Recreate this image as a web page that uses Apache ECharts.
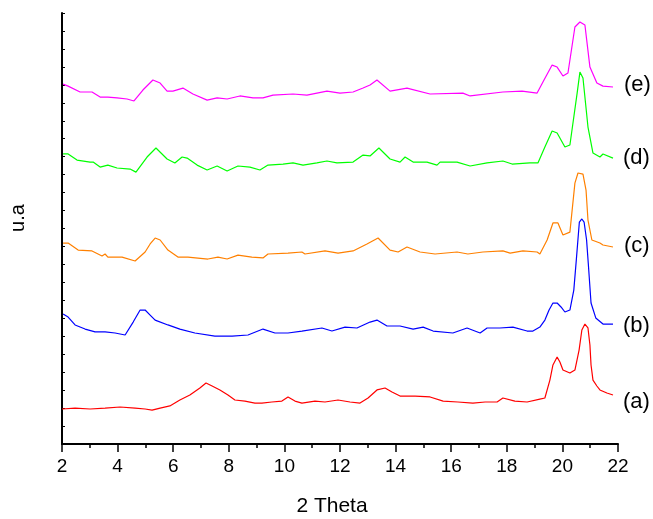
<!DOCTYPE html>
<html>
<head>
<meta charset="utf-8">
<script src="https://cdn.jsdelivr.net/npm/echarts@6/dist/echarts.min.js"></script>
<style>html,body{margin:0;padding:0;background:#fff}#c{width:653px;height:519px}</style>
</head>
<body>
<div id="c"></div>
<script>
const xTicks = [2, 4, 6, 8, 10, 12, 14, 16, 18, 20, 22];
const seriesNames = ['(a)', '(b)', '(c)', '(d)', '(e)'];
const seriesColors = ['#ff0000', '#0000ff', '#ff8000', '#00ff00', '#ff00ff'];

const curveA = [[2.00,1.95],[2.47,2.00],[3.01,1.95],[3.55,2.00],[4.09,2.06],[4.63,2.00],[4.99,1.95],[5.24,1.89],[5.53,2.00],[5.88,2.12],[6.24,2.45],[6.60,2.73],[6.96,3.12],[7.18,3.40],[7.40,3.23],[7.68,3.01],[7.97,2.73],[8.22,2.45],[8.58,2.39],[8.94,2.28],[9.19,2.28],[9.55,2.34],[9.91,2.39],[10.13,2.62],[10.38,2.39],[10.63,2.28],[11.10,2.39],[11.46,2.34],[11.93,2.45],[12.36,2.34],[12.72,2.28],[13.01,2.56],[13.33,3.01],[13.62,3.12],[13.87,2.90],[14.16,2.67],[14.70,2.67],[15.24,2.62],[15.71,2.39],[16.24,2.34],[16.78,2.28],[17.22,2.34],[17.65,2.34],[17.86,2.56],[18.29,2.39],[18.73,2.34],[19.19,2.50],[19.37,2.56],[19.55,3.56],[19.66,4.40],[19.81,4.84],[19.91,4.57],[20.02,4.12],[20.27,3.95],[20.45,4.12],[20.60,5.23],[20.70,6.35],[20.81,6.68],[20.92,6.46],[20.99,5.51],[21.03,4.40],[21.10,3.56],[21.24,3.23],[21.35,3.01],[21.60,2.84],[21.82,2.73]];

const curveB = [[2.04,7.24],[2.22,7.07],[2.47,6.63],[2.83,6.40],[3.19,6.24],[3.55,6.24],[3.91,6.18],[4.27,6.07],[4.34,6.01],[4.56,6.79],[4.81,7.46],[4.99,7.46],[5.17,7.18],[5.35,6.90],[5.81,6.63],[6.24,6.40],[6.78,6.18],[7.50,6.01],[8.12,6.01],[8.69,6.07],[9.23,6.40],[9.66,6.18],[10.13,6.18],[10.63,6.29],[11.35,6.46],[11.71,6.29],[12.18,6.51],[12.61,6.46],[13.08,6.79],[13.33,6.90],[13.69,6.57],[14.16,6.57],[14.63,6.40],[14.99,6.51],[15.35,6.29],[16.06,6.18],[16.57,6.46],[17.04,6.18],[17.29,6.46],[17.75,6.46],[18.22,6.51],[18.73,6.29],[18.94,6.29],[19.19,6.51],[19.37,6.90],[19.52,7.46],[19.66,7.85],[19.81,7.85],[19.95,7.63],[20.09,7.35],[20.27,7.46],[20.41,8.57],[20.50,10.24],[20.61,12.36],[20.70,12.53],[20.78,12.36],[20.87,11.36],[20.93,10.08],[21.03,7.85],[21.20,7.02],[21.46,6.68],[21.82,6.68]];

const curveC = [[2.04,11.19],[2.22,11.19],[2.58,10.80],[3.08,10.75],[3.44,10.47],[3.55,10.58],[3.65,10.41],[4.16,10.41],[4.63,10.19],[4.99,10.69],[5.17,11.14],[5.35,11.47],[5.53,11.36],[5.81,10.80],[6.17,10.41],[6.53,10.41],[7.25,10.30],[7.61,10.41],[7.94,10.30],[8.33,10.52],[8.83,10.41],[9.23,10.36],[9.41,10.58],[10.13,10.63],[10.63,10.69],[10.74,10.58],[11.46,10.75],[11.93,10.63],[12.47,10.75],[12.97,11.14],[13.37,11.47],[13.80,10.80],[14.09,10.69],[14.41,10.97],[14.88,10.69],[15.42,10.58],[16.21,10.69],[16.60,10.58],[17.14,10.69],[17.86,10.75],[18.12,10.63],[18.58,10.75],[19.09,10.69],[19.19,10.58],[19.45,11.36],[19.66,12.31],[19.84,12.31],[20.02,11.64],[20.27,11.80],[20.45,14.53],[20.56,15.09],[20.63,15.14],[20.74,15.03],[20.85,14.14],[20.92,12.47],[21.06,11.36],[21.35,11.19],[21.46,11.08],[21.82,10.97]];

const curveD = [[2.04,16.15],[2.22,16.15],[2.54,15.81],[3.01,15.70],[3.12,15.70],[3.37,15.42],[3.65,15.53],[3.98,15.37],[4.45,15.31],[4.66,15.14],[5.06,15.98],[5.38,16.48],[5.78,15.87],[6.06,15.65],[6.32,15.98],[6.50,15.92],[6.86,15.53],[7.22,15.26],[7.58,15.48],[7.94,15.20],[8.33,15.48],[8.76,15.42],[9.12,15.26],[9.41,15.53],[9.95,15.59],[10.31,15.65],[10.67,15.53],[11.17,15.65],[11.53,15.76],[11.89,15.65],[12.47,15.70],[12.83,16.09],[13.08,16.04],[13.40,16.48],[13.80,15.87],[14.16,15.70],[14.34,15.98],[14.63,15.70],[15.13,15.70],[15.49,15.53],[15.60,15.70],[16.21,15.70],[16.68,15.48],[17.29,15.65],[17.86,15.76],[18.19,15.59],[18.83,15.65],[19.12,15.65],[19.37,16.54],[19.63,17.43],[19.81,17.32],[20.09,16.54],[20.27,16.65],[20.53,19.54],[20.63,20.71],[20.74,20.38],[20.92,17.65],[21.10,16.20],[21.35,15.98],[21.46,16.15],[21.82,15.92]];

const curveE = [[2.04,20.04],[2.22,19.93],[2.65,19.60],[3.08,19.60],[3.37,19.32],[3.65,19.32],[3.98,19.27],[4.34,19.21],[4.59,19.10],[4.91,19.71],[5.27,20.27],[5.53,20.10],[5.78,19.65],[5.99,19.65],[6.35,19.82],[6.71,19.49],[7.22,19.15],[7.58,19.27],[7.94,19.21],[8.40,19.38],[8.87,19.27],[9.23,19.27],[9.59,19.43],[10.31,19.49],[10.81,19.43],[11.53,19.65],[12.00,19.54],[12.47,19.60],[12.83,19.82],[13.08,19.99],[13.33,20.27],[13.80,19.65],[14.41,19.82],[15.24,19.49],[16.42,19.54],[16.68,19.38],[17.86,19.60],[18.55,19.65],[19.09,19.54],[19.30,20.16],[19.63,21.10],[19.81,20.99],[20.02,20.49],[20.20,20.66],[20.45,23.22],[20.63,23.50],[20.81,23.33],[20.99,20.99],[21.24,20.10],[21.46,19.93],[21.82,19.88]];

const curves = [curveA, curveB, curveC, curveD, curveE];
const FONT = '"Liberation Sans", Arial, sans-serif';

const chart = echarts.init(document.getElementById('c'), null, {renderer: 'canvas'});
const labelPos = [[623, 402], [623, 326], [624, 246], [623, 158], [624, 85]];

chart.setOption({
  animation: false,
  backgroundColor: '#fff',
  grid: {left: 62, right: 35, top: 13, bottom: 75, containLabel: false},
  xAxis: {
    type: 'value', min: xTicks[0], max: xTicks[xTicks.length - 1], interval: 2,
    axisLine: {show: true, onZero: false, lineStyle: {color: '#000', width: 2}},
    axisTick: {show: true, inside: false, length: 8, lineStyle: {color: '#000', width: 1.5}},
    minorTick: {show: true, splitNumber: 2, length: 4, lineStyle: {color: '#000', width: 1.5}},
    splitLine: {show: false},
    axisLabel: {color: '#000', fontSize: 19, fontFamily: FONT, margin: 13}
  },
  yAxis: {
    type: 'value', min: 0, max: 24, interval: 1,
    axisLine: {show: true, onZero: false, lineStyle: {color: '#000', width: 2}},
    axisTick: {show: true, inside: true, length: 3, lineStyle: {color: '#000', width: 1}},
    axisLabel: {show: false},
    splitLine: {show: false}
  },
  graphic: [
    ...seriesNames.map((n, i) => ({
      type: 'text', x: labelPos[i][0], y: labelPos[i][1],
      style: {text: n, fill: '#000', font: '22px ' + FONT, align: 'left', verticalAlign: 'middle'}
    })),
    {type: 'text', x: 18, y: 218, rotation: Math.PI / 2,
     style: {text: 'u.a', fill: '#000', font: '20px ' + FONT, align: 'center', verticalAlign: 'middle'}},
    {type: 'text', x: 332, y: 506,
     style: {text: '2 Theta', fill: '#000', font: '21px ' + FONT, align: 'center', verticalAlign: 'middle'}}
  ],
  series: curves.map((d, i) => ({
    name: seriesNames[i], type: 'line', data: d, showSymbol: false, symbol: 'none',
    smooth: false, lineStyle: {color: seriesColors[i], width: 1.2}, itemStyle: {color: seriesColors[i]}
  }))
});
</script>
</body>
</html>
